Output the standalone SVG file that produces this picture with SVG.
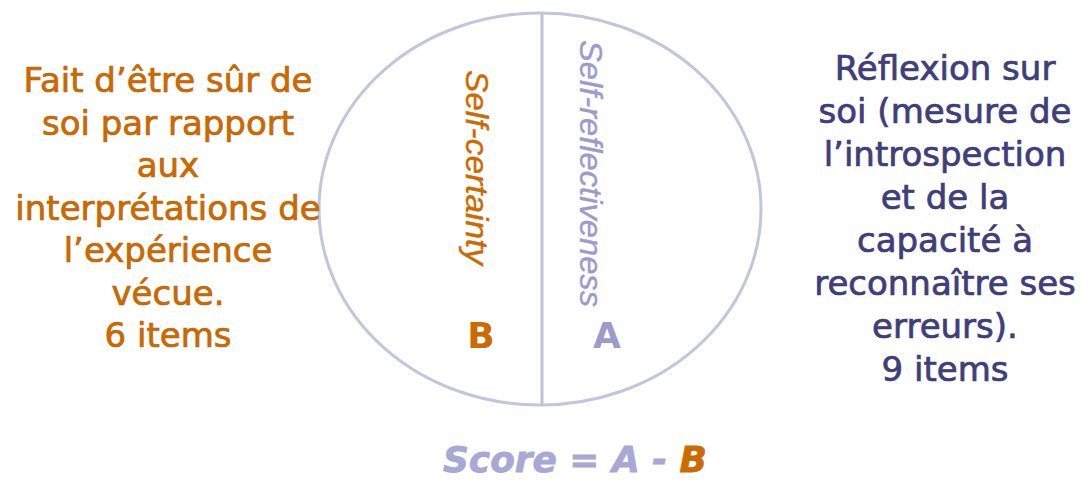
<svg xmlns="http://www.w3.org/2000/svg" width="1081" height="482" viewBox="0 0 1081 482">
<style>
.body{font-family:"DejaVu Sans","Verdana",sans-serif;font-size:34px;text-anchor:middle;stroke-width:0.7px}
.orange{fill:#cc6a00}
.body.orange{stroke:#c06400}
.navy{fill:#3f3f7c}
.body.navy{stroke:#3a3a74}
.lav{fill:#9c9ccc}
.vert{font-family:"Liberation Sans",Arial,sans-serif;font-style:italic;font-size:32px;stroke-width:0.4px}
.vert.orange{stroke:#cc6a00}
.vert.lav{stroke:#9c9ccc}
.letter{font-family:"DejaVu Sans",sans-serif;font-weight:bold;font-size:36px;text-anchor:middle}
.score{font-family:"DejaVu Sans",sans-serif;font-weight:bold;font-style:oblique;font-size:36px;stroke-width:0.8px}
</style>
<rect width="1081" height="482" fill="#ffffff"/>
<g id="circle">
<ellipse cx="540" cy="209" rx="221" ry="196" fill="none" stroke="#c4c4de" stroke-width="3"/>
<line x1="542" y1="13" x2="542" y2="405" stroke="#c2c2d6" stroke-width="3"/>
</g>
<g id="left-text" class="body orange">
<text x="168" y="92">Fait d’être sûr de</text>
<text x="168" y="134.5">soi par rapport</text>
<text x="168" y="177">aux</text>
<text x="168" y="219.5">interprétations de</text>
<text x="168" y="262">l’expérience</text>
<text x="168" y="304.5">vécue.</text>
<text x="168" y="347">6 items</text>
</g>
<g id="right-text" class="body navy">
<text x="945" y="80">Réflexion sur</text>
<text x="945" y="123">soi (mesure de</text>
<text x="945" y="166">l’introspection</text>
<text x="945" y="209">et de la</text>
<text x="945" y="252">capacité à</text>
<text x="945" y="295">reconnaître ses</text>
<text x="945" y="338">erreurs).</text>
<text x="945" y="381">9 items</text>
</g>
<g id="self-certainty">
<text class="vert orange" transform="translate(466,70) rotate(90)" textLength="195" lengthAdjust="spacingAndGlyphs">Self-certainty</text>
<text class="letter orange" x="481" y="348">B</text>
</g>
<g id="self-reflectiveness">
<text class="vert lav" transform="translate(580,40) rotate(90)" textLength="267" lengthAdjust="spacingAndGlyphs">Self-reflectiveness</text>
<text class="letter lav" x="607" y="348">A</text>
</g>
<g id="score">
<text class="score" x="443" y="472" textLength="264" lengthAdjust="spacingAndGlyphs"><tspan fill="#a8a8d4" stroke="#a8a8d4">Score = A - </tspan><tspan fill="#cc6a00" stroke="#cc6a00">B</tspan></text>
</g>
</svg>
